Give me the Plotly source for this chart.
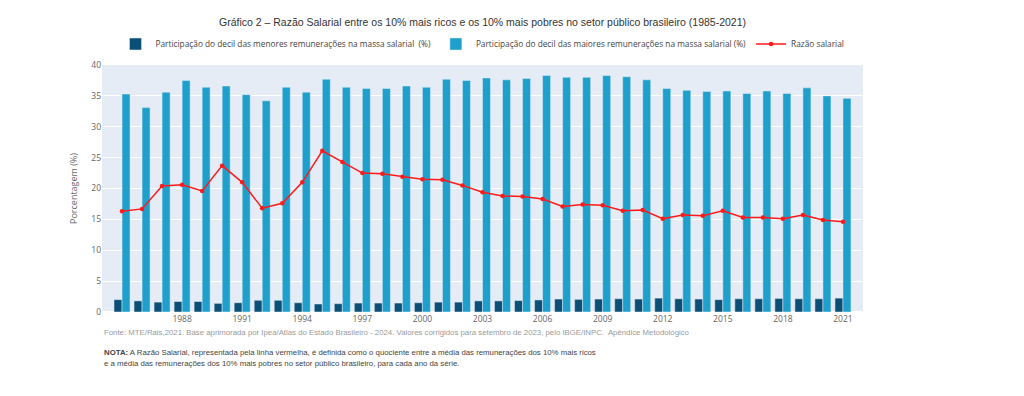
import plotly.graph_objects as go

anos = list(range(1985, 2022))

menores = [2.0, 1.8, 1.6, 1.7, 1.7, 1.4, 1.5, 1.9, 1.9, 1.5, 1.3, 1.35,
           1.45, 1.45, 1.45, 1.5, 1.6, 1.6, 1.8, 1.8, 1.85, 1.95, 2.1, 2.05,
           2.1, 2.15, 2.1, 2.25, 2.15, 2.1, 2.0, 2.15, 2.15, 2.2, 2.15, 2.15, 2.25]

maiores = [35.3, 33.1, 35.6, 37.5, 36.4, 36.6, 35.2, 34.2, 36.4, 35.6, 37.7, 36.4,
           36.2, 36.2, 36.6, 36.4, 37.7, 37.5, 37.9, 37.6, 37.8, 38.3, 38.0, 38.0,
           38.3, 38.1, 37.6, 36.2, 35.9, 35.7, 35.8, 35.4, 35.8, 35.4, 36.3, 35.0, 34.6]

razao = [16.3, 16.7, 20.4, 20.6, 19.6, 23.7, 21.0, 16.8, 17.6, 21.0, 26.1, 24.3,
         22.5, 22.4, 21.9, 21.5, 21.4, 20.5, 19.4, 18.8, 18.7, 18.3, 17.1, 17.4,
         17.3, 16.4, 16.5, 15.1, 15.7, 15.6, 16.4, 15.3, 15.3, 15.1, 15.7, 14.9, 14.6]

tick_anos = list(range(1988, 2022, 3))

fig = go.Figure()
fig.add_trace(go.Bar(x=anos, y=menores, name="Participação do decil das menores remunerações na massa salarial  (%)",
                     marker_color="#0b4f76"))
fig.add_trace(go.Bar(x=anos, y=maiores, name="Participação do decil das maiores remunerações na massa salarial (%)",
                     marker_color="#1f9fcb"))
fig.add_trace(go.Scatter(x=anos, y=razao, name="Razão salarial", mode="lines+markers",
                         line=dict(color="#ff1a1a", width=1.5), marker=dict(color="#ff1a1a", size=4.5)))

fig.update_layout(
    template="plotly",
    width=1024, height=396,
    margin=dict(l=94, r=169, t=57, b=92, autoexpand=False),
    barmode="group",
    paper_bgcolor="white",
    plot_bgcolor="#E5ECF6",
    font=dict(family="Open Sans", size=9, color="#444"),
    title=dict(text="Gráfico 2 – Razão Salarial entre os 10% mais ricos e os 10% mais pobres no setor público brasileiro (1985-2021)",
               x=0.5, xref="paper", xanchor="center", y=1 - 14 / 396, yanchor="middle",
               font=dict(family="Liberation Sans, Arial", size=10.5, color="#333")),
    legend=dict(orientation="h", x=0.5, xanchor="center", y=1.085, yanchor="middle",
                font=dict(family="Open Sans", size=8.3, color="#444"), bgcolor="rgba(0,0,0,0)"),
    xaxis=dict(range=[1984, 2022], tickvals=tick_anos, showgrid=False, automargin=False,
               tickfont=dict(size=8.5, color="#666")),
    yaxis=dict(range=[0, 40], dtick=5, gridcolor="white", automargin=False,
               title=dict(text="Porcentagem (%)", font=dict(size=9, color="#666"), standoff=12),
               tickfont=dict(size=8.5, color="#666")),
    showlegend=True,
)

fig.add_annotation(xref="paper", yref="paper", x=0, y=-0.085, xanchor="left", yanchor="middle",
                   showarrow=False, align="left",
                   text="Fonte: MTE/Rais,2021. Base aprimorada por Ipea/Atlas do Estado Brasileiro - 2024. Valores corrigidos para setembro de 2023, pelo IBGE/INPC.  Apêndice Metodológico",
                   font=dict(family="Liberation Sans, Arial", size=7.8, color="#9a9a9a"))
fig.add_annotation(xref="paper", yref="paper", x=0, y=-0.162, xanchor="left", yanchor="middle",
                   showarrow=False, align="left",
                   text="<b>NOTA:</b> A Razão Salarial, representada pela linha vermelha, é definida como o quociente entre a média das remunerações dos 10% mais ricos",
                   font=dict(family="Liberation Sans, Arial", size=7.8, color="#444"))
fig.add_annotation(xref="paper", yref="paper", x=0, y=-0.21, xanchor="left", yanchor="middle",
                   showarrow=False, align="left",
                   text="e a média das remunerações dos 10% mais pobres no setor público brasileiro, para cada ano da série.",
                   font=dict(family="Liberation Sans, Arial", size=7.8, color="#444"))

fig.write_html("out.html")
